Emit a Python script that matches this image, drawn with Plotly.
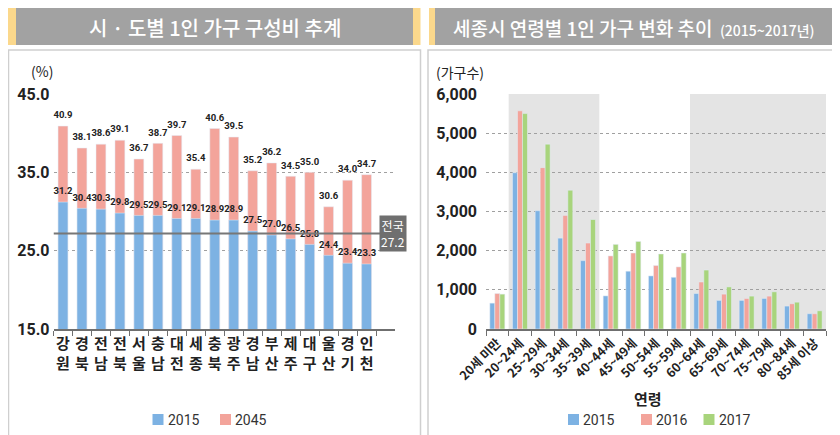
import plotly.graph_objects as go

# page shows the figure offset by the body's 8px margin
OFF = 8
W, H = 840 - OFF, 435 - OFF

# ---------------- data ----------------
regions = ["강원", "경북", "전남", "전북", "서울", "충남", "대전", "세종", "충북",
           "광주", "경남", "부산", "제주", "대구", "울산", "경기", "인천"]
share_2015 = [31.2, 30.4, 30.3, 29.8, 29.5, 29.5, 29.1, 29.1, 28.9,
              28.9, 27.5, 27.0, 26.5, 25.8, 24.4, 23.4, 23.3]
share_2045 = [40.9, 38.1, 38.6, 39.1, 36.7, 38.7, 39.7, 35.4, 40.6,
              39.5, 35.2, 36.2, 34.5, 35.0, 30.6, 34.0, 34.7]
national_2015 = 27.2
left_ticks = [15, 25, 35, 45]

ages = ["20세 미만", "20~24세", "25~29세", "30~34세", "35~39세", "40~44세",
        "45~49세", "50~54세", "55~59세", "60~64세", "65~69세", "70~74세",
        "75~79세", "80~84세", "85세 이상"]
hh_2015 = [660, 3990, 3020, 2320, 1745, 845, 1475, 1355, 1320, 905, 730, 730, 780, 585, 390]
hh_2016 = [905, 5570, 4120, 2900, 2195, 1865, 1940, 1620, 1585, 1200, 890, 780, 840, 645, 390]
hh_2017 = [890, 5500, 4720, 3545, 2795, 2160, 2235, 1915, 1940, 1505, 1075, 840, 950, 685, 465]
right_ticks = [0, 1000, 2000, 3000, 4000, 5000, 6000]
shaded_groups = [(1, 4), (9, 14)]  # category index spans with grey background

# ---------------- style ----------------
BLUE = "#7db2e3"
PINK = "#f3a49b"
GREEN = "#a8d47c"
DARK = "#222222"
NUM_FONT = "Roboto, Liberation Sans, sans-serif"
KR_FONT = "Noto Sans CJK KR, Noto Sans, sans-serif"


def px(x):
    return (x - OFF) / W


def py(y):
    return 1 - (y - OFF) / H


fig = go.Figure()

# ---------------- left chart ----------------
fig.add_trace(go.Bar(x=regions, y=share_2045, name="2045", marker_color=PINK,
                     width=0.52, offset=-0.26, xaxis="x", yaxis="y",
                     showlegend=False, hoverinfo="x+y"))
fig.add_trace(go.Bar(x=regions, y=share_2015, name="2015", marker_color=BLUE,
                     width=0.52, offset=-0.26, xaxis="x", yaxis="y",
                     showlegend=False, hoverinfo="x+y"))
for vals in (share_2045, share_2015):
    fig.add_trace(go.Scatter(x=regions, y=vals, mode="markers+text",
                             marker=dict(size=7, color="rgba(0,0,0,0)"),
                             text=[f"{v:.1f}" for v in vals],
                             textposition="top center",
                             textfont=dict(family=NUM_FONT, size=9.5, color=DARK, weight="bold"),
                             xaxis="x", yaxis="y", showlegend=False, cliponaxis=False,
                             hoverinfo="skip"))

# ---------------- right chart ----------------
for vals, name, col, off in [(hh_2015, "2015", BLUE, -0.33),
                             (hh_2016, "2016", PINK, -0.11),
                             (hh_2017, "2017", GREEN, 0.11)]:
    fig.add_trace(go.Bar(x=ages, y=vals, name=name, marker_color=col,
                         width=0.22, offset=off, xaxis="x2", yaxis="y2",
                         showlegend=False))

fig.update_layout(
    width=W, height=H,
    margin=dict(l=0, r=0, t=0, b=0, pad=0, autoexpand=False),
    paper_bgcolor="white", plot_bgcolor="rgba(0,0,0,0)",
    barmode="overlay", showlegend=False,
    font=dict(family=KR_FONT, color=DARK),
    xaxis=dict(domain=[px(53.5), px(395)], range=[-0.5, 17.5], type="category",
               tickmode="array", tickvals=regions,
               ticktext=[r[0] + "<br>" + r[1] for r in regions], tickangle=0,
               tickfont=dict(family=KR_FONT, size=15, color=DARK, weight="bold"),
               showline=True, linecolor="#6f6f6f", linewidth=2,
               ticks="outside", tickson="boundaries", ticklen=5, tickcolor="#6f6f6f",
               showgrid=False, anchor="y", fixedrange=True, automargin=False),
    yaxis=dict(domain=[py(329), py(94)], range=[15, 45], tickvals=left_ticks,
               ticktext=[f"{v:.1f}" for v in left_ticks],
               tickfont=dict(family=NUM_FONT, size=16, color=DARK, weight="bold"),
               showgrid=True, gridcolor="#a0a0a0", griddash="dot", gridwidth=1,
               zeroline=False, showline=False, ticks="", ticklabelstandoff=3,
               anchor="x", fixedrange=True, automargin=False),
    xaxis2=dict(domain=[px(486), px(826)], range=[-0.5, 14.5], type="category",
                tickangle=-45,
                tickfont=dict(family=KR_FONT, size=12.5, color=DARK, weight="bold"),
                showline=True, linecolor="#6f6f6f", linewidth=2,
                ticks="outside", tickson="boundaries", ticklen=5, tickcolor="#6f6f6f",
                showgrid=False, anchor="y2", fixedrange=True, automargin=False),
    yaxis2=dict(domain=[py(329), py(94)], range=[0, 6000], tickvals=right_ticks,
                ticktext=[f"{v:,}" for v in right_ticks],
                tickfont=dict(family=NUM_FONT, size=16, color=DARK, weight="bold"),
                showgrid=True, gridcolor="#a0a0a0", griddash="dot", gridwidth=1,
                zeroline=False, showline=False, ticks="", ticklabelstandoff=8,
                anchor="x2", fixedrange=True, automargin=False),
)

shapes = []
annotations = []

# panel frames
for x0, x1 in [(8.5, 420.5), (428, 845)]:
    shapes.append(dict(type="rect", xref="paper", yref="paper",
                       x0=px(x0), x1=px(x1), y0=py(450), y1=py(50),
                       line=dict(color="#cfcfcf", width=1.5), fillcolor="rgba(0,0,0,0)",
                       layer="below"))

# headers
for gx0, gx1, yl0, yl1, yr0, yr1 in [(16, 413, 8, 16, 413, 420.5),
                                     (435, 833, 429, 435, 833, 840)]:
    shapes.append(dict(type="rect", xref="paper", yref="paper",
                       x0=px(gx0), x1=px(gx1), y0=py(45), y1=py(8),
                       line=dict(width=0), fillcolor="#a2a2a2", layer="below"))
    for a, b in [(yl0, yl1), (yr0, yr1)]:
        shapes.append(dict(type="rect", xref="paper", yref="paper",
                           x0=px(a), x1=px(b), y0=py(45), y1=py(8),
                           line=dict(width=0), fillcolor="#fbd88c", layer="below"))

annotations.append(dict(xref="paper", yref="paper", x=px(214.5), y=py(27),
                        text="시 · 도별 1인 가구 구성비 추계", showarrow=False,
                        font=dict(family=KR_FONT, size=20, color="white", weight=500),
                        xanchor="center", yanchor="middle"))
annotations.append(dict(xref="paper", yref="paper", x=px(634), y=py(27),
                        text="세종시 연령별 1인 가구 변화 추이 <span style='font-size:14px'> (2015~2017년)</span>",
                        showarrow=False,
                        font=dict(family=KR_FONT, size=19, color="white", weight=500),
                        xanchor="center", yanchor="middle"))

# right chart shaded groups
for a, b in shaded_groups:
    shapes.append(dict(type="rect", xref="x2", yref="y2",
                       x0=a - 0.5, x1=b + 0.5, y0=0, y1=6000,
                       line=dict(width=0), fillcolor="#e4e4e4", layer="below"))

# national average line + label
shapes.append(dict(type="line", xref="x", yref="y", x0=-0.5, x1=16.8,
                   y0=national_2015, y1=national_2015,
                   line=dict(color="#777777", width=2)))
annotations.append(dict(xref="paper", yref="y", x=px(392.7), y=national_2015,
                        text=f"전국<br>{national_2015:.1f}", showarrow=False,
                        font=dict(family=KR_FONT, size=12, color="white"),
                        bgcolor="#6f6f6f", borderpad=1,
                        xanchor="center", yanchor="middle"))

# unit labels
annotations.append(dict(xref="paper", yref="paper", x=px(29), y=py(71),
                        text="(%)", showarrow=False, xanchor="left", yanchor="middle",
                        font=dict(family=KR_FONT, size=14, color=DARK)))
annotations.append(dict(xref="paper", yref="paper", x=px(434), y=py(72),
                        text="(가구수)", showarrow=False, xanchor="left", yanchor="middle",
                        font=dict(family=KR_FONT, size=14, color=DARK)))
annotations.append(dict(xref="paper", yref="paper", x=px(648), y=py(398),
                        text="연령", showarrow=False, xanchor="center", yanchor="middle",
                        font=dict(family=KR_FONT, size=15, color=DARK, weight="bold")))

# manual legends
for x0, name, col in [(152.5, "2015", BLUE), (220, "2045", PINK),
                      (568, "2015", BLUE), (641, "2016", PINK), (703.5, "2017", GREEN)]:
    shapes.append(dict(type="rect", xref="paper", yref="paper",
                       x0=px(x0), x1=px(x0 + 11), y0=py(425), y1=py(414),
                       line=dict(width=0), fillcolor=col))
    annotations.append(dict(xref="paper", yref="paper", x=px(x0 + 13), y=py(419.5),
                            text=name, showarrow=False, xanchor="left", yanchor="middle",
                            font=dict(family=NUM_FONT, size=14, color="#333333")))

fig.update_layout(shapes=shapes, annotations=annotations)
fig.write_html("out.html")
